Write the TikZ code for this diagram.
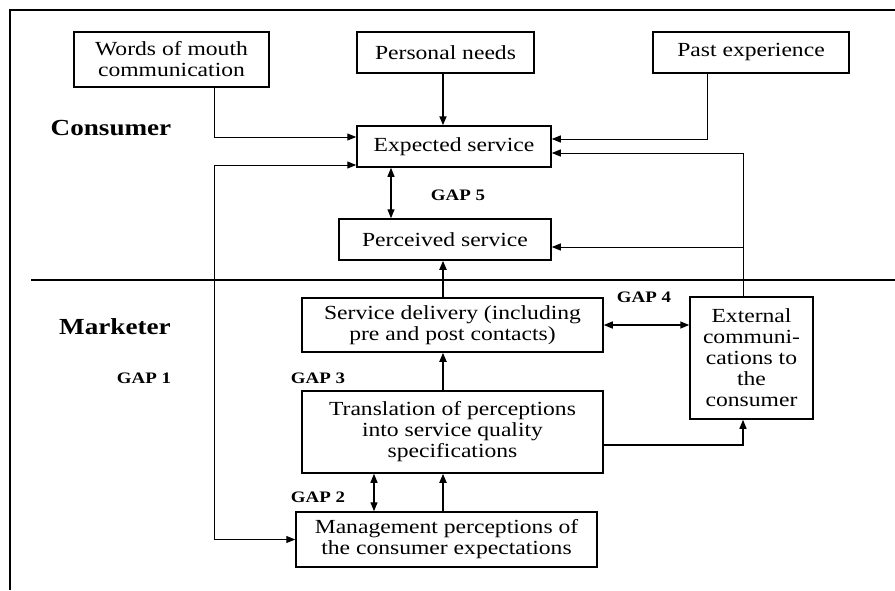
\documentclass[tikz,border=0pt]{standalone}
\usepackage{fontspec}
\setmainfont[FakeStretch=1.18]{Liberation Serif}
\usetikzlibrary{arrows.meta}
\begin{document}
\begin{tikzpicture}[x=1pt,y=-1pt,
  box/.style={draw,line width=1.5pt,align=center,inner sep=0pt,
    font=\fontsize{20}{21}\selectfont},
  thinarr/.style={line width=1pt,-{Triangle[length=9pt,width=7pt]}},
  thickarr/.style={line width=1.8pt,-{Triangle[length=9pt,width=7pt]}},
  dblarr/.style={line width=1.2pt,{Triangle[length=9pt,width=7pt]}-{Triangle[length=9pt,width=7pt]}},
  gap/.style={font=\bfseries\fontsize{16}{18}\selectfont,inner sep=0pt},
  side/.style={font=\bfseries\fontsize{23}{26}\selectfont,inner sep=0pt}]
\useasboundingbox (0,0) rectangle (895,590);
\draw[line width=1.6pt] (10,590) -- (10,10) -- (895,10);
\draw[line width=1.2pt] (31,280) -- (895,280);

\node[box,minimum width=195pt,minimum height=55pt] (words) at (171.5,59.5) {Words of mouth\\communication};
\node[box,minimum width=177pt,minimum height=41pt] (needs) at (445.5,52.5) {Personal needs};
\node[box,minimum width=196pt,minimum height=41pt] (past) at (751,52.5) {Past experience};
\node[box,minimum width=194pt,minimum height=41pt] (expected) at (454,146.5) {Expected service};
\node[box,minimum width=212pt,minimum height=41pt] (perceived) at (445,239.5) {Perceived service};
\node[box,minimum width=301pt,minimum height=54pt] (delivery) at (452.5,325) {Service delivery (including\\pre and post contacts)};
\node[box,minimum width=123pt,minimum height=122pt] (external) at (751.5,358) {External\\communi-\\cations to\\the\\consumer};
\node[box,minimum width=301pt,minimum height=82pt] (translation) at (452.5,432) {Translation of perceptions\\into service quality\\specifications};
\node[box,minimum width=301pt,minimum height=55pt] (management) at (446.5,539.5) {Management perceptions of\\the consumer expectations};

\node[side] (consumer) at (111,128) {Consumer};
\node[side] (marketer) at (115,327) {Marketer};
\node[gap] (g5) at (458,195) {GAP 5};
\node[gap] (g4) at (644,297) {GAP 4};
\node[gap] (g1) at (144,378) {GAP 1};
\node[gap] (g3) at (318,378) {GAP 3};
\node[gap] (g2) at (318,497) {GAP 2};

\coordinate (c1) at (214,137);
\coordinate (c2) at (707,139);
\coordinate (c3) at (743,153);
\coordinate (c4) at (743,247);
\coordinate (c5) at (743,445);
\coordinate (c6) at (214,165);
\coordinate (g5x) at (391,0);
\coordinate (g2x) at (374,0);
\coordinate (mx) at (443,0);

\draw[thinarr] (words.south -| c1) |- (expected.west |- c1);
\draw[thickarr] (needs.south -| mx) -- (expected.north -| mx);
\draw[thinarr] (past.south -| c2) |- (expected.east |- c2);
\draw[thinarr] (external.north -| c3) |- (expected.east |- c3);
\draw[thinarr] (c4) -- (perceived.east |- c4);
\draw[dblarr] (expected.south -| g5x) -- (perceived.north -| g5x);
\draw[thickarr] (delivery.north -| mx) -- (perceived.south -| mx);
\draw[dblarr,line width=1.5pt] (delivery.east) -- (delivery.east -| external.west);
\draw[thinarr,line width=1.2pt] (translation.east |- c5) -| (external.south -| c5);
\draw[thickarr] (translation.north -| mx) -- (delivery.south -| mx);
\draw[dblarr] (translation.south -| g2x) -- (management.north -| g2x);
\draw[thickarr] (management.north -| mx) -- (translation.south -| mx);
\draw[line width=1pt,{Triangle[length=9pt,width=7pt]}-{Triangle[length=9pt,width=7pt]}] (expected.west |- c6) -- (c6) |- (management.west);
\end{tikzpicture}
\end{document}
